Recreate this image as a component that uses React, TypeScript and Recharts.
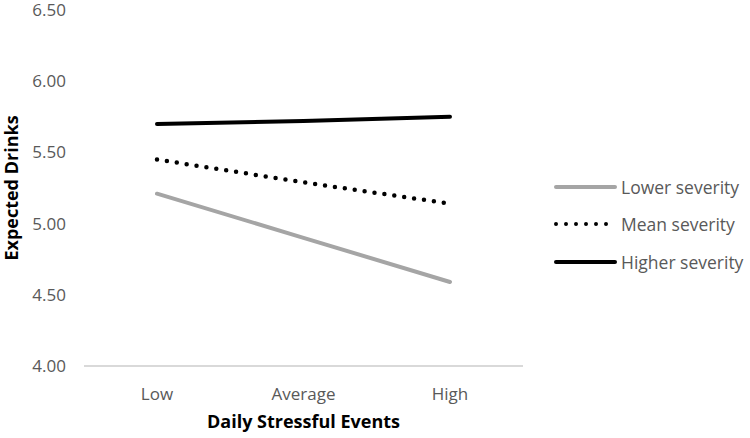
import { Line, LineChart, XAxis, YAxis } from "recharts";

const categories = ["Low", "Average", "High"];
const lowerSeverity = [5.21, 4.9, 4.59];
const meanSeverity = [5.45, 5.29, 5.14];
const higherSeverity = [5.7, 5.72, 5.75];
const yTicks = [4.0, 4.5, 5.0, 5.5, 6.0, 6.5];

const seriesInfo = [
  { key: "lower", name: "Lower severity", color: "#a5a5a5", dash: undefined },
  { key: "mean", name: "Mean severity", color: "#000000", dash: "0 10" },
  { key: "higher", name: "Higher severity", color: "#000000", dash: undefined },
];

const data = categories.map((c, i) => ({
  name: c,
  lower: lowerSeverity[i],
  mean: meanSeverity[i],
  higher: higherSeverity[i],
}));

const FONT = "'Open Sans', Lato, sans-serif";

// legend drawn as plain html so it doesn't eat into the plot area
function LegendBox() {
  return (
    <div
      style={{
        position: "absolute",
        left: 553,
        top: 168,
        fontFamily: FONT,
        fontSize: 17.5,
        color: "#595959",
      }}
    >
      {seriesInfo.map((s) => (
        <div key={s.key} style={{ display: "flex", alignItems: "center", height: 37.5 }}>
          <svg width={64} height={8} style={{ marginRight: 4 }}>
            <line
              x1={3}
              y1={4}
              x2={62}
              y2={4}
              stroke={s.color}
              strokeWidth={4}
              strokeLinecap="round"
              strokeDasharray={s.dash}
            />
          </svg>
          <span>{s.name}</span>
        </div>
      ))}
    </div>
  );
}

export default function App() {
  return (
    <div style={{ position: "absolute", left: 0, top: 0, width: 750, height: 438, background: "#fff" }}>
      <LineChart
        width={750}
        height={438}
        data={data}
        margin={{ top: 10, right: 227, bottom: 0, left: 0 }}
      >
        <XAxis
          dataKey="name"
          height={72}
          padding={{ left: 73, right: 73 }}
          stroke="#d9d9d9"
          strokeWidth={2}
          tickLine={false}
          tickMargin={16}
          tick={{ fill: "#595959", fontSize: 17, fontFamily: FONT }}
          label={{
            value: "Daily Stressful Events",
            position: "insideBottom",
            offset: 10,
            style: { fill: "#000", fontSize: 18, fontWeight: "bold", fontFamily: FONT },
          }}
        />
        <YAxis
          width={84}
          domain={[4, 6.5]}
          ticks={yTicks}
          axisLine={false}
          tickLine={false}
          tickMargin={12}
          tickFormatter={(v: number) => v.toFixed(2)}
          tick={{ fill: "#595959", fontSize: 17, fontFamily: FONT }}
          label={{
            value: "Expected Drinks",
            angle: -90,
            position: "insideLeft",
            offset: 12,
            style: { textAnchor: "middle", fill: "#000", fontSize: 18, fontWeight: "bold", fontFamily: FONT },
          }}
        />
        {seriesInfo.map((s) => (
          <Line
            key={s.key}
            type="linear"
            dataKey={s.key}
            name={s.name}
            stroke={s.color}
            strokeWidth={s.dash ? 4.5 : 4}
            strokeDasharray={s.dash}
            strokeLinecap="round"
            dot={false}
            activeDot={false}
            isAnimationActive={false}
          />
        ))}
      </LineChart>
      <LegendBox />
    </div>
  );
}
